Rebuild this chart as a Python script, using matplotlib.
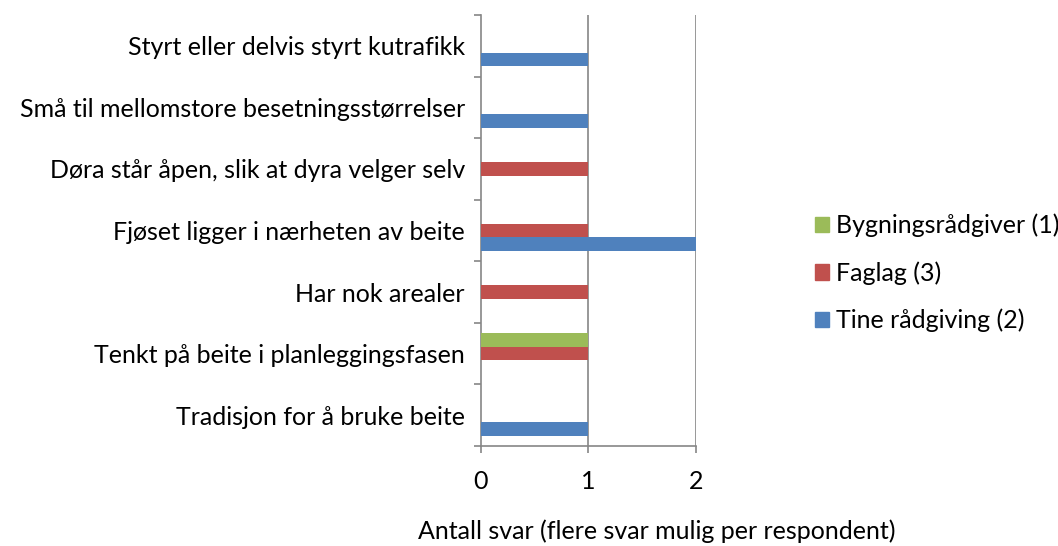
import numpy as np
import matplotlib.pyplot as plt
from matplotlib.patches import Patch

kategorier = [
    'Styrt eller delvis styrt kutrafikk',
    'Små til mellomstore besetningsstørrelser',
    'Døra står åpen, slik at dyra velger selv',
    'Fjøset ligger i nærheten av beite',
    'Har nok arealer',
    'Tenkt på beite i planleggingsfasen',
    'Tradisjon for å bruke beite',
]
tine = [1, 1, 0, 2, 0, 0, 1]
faglag = [0, 0, 1, 1, 1, 1, 0]
bygning = [0, 0, 0, 0, 0, 1, 0]

serier = ['Tine rådgiving (2)', 'Faglag (3)', 'Bygningsrådgiver (1)']
farger = ['#4F81BD', '#C0504D', '#9BBB59']
grid_farge = '#868686'
fs = 18

plt.rcParams['font.family'] = ['Lato', 'DejaVu Sans']

fig = plt.figure(figsize=(10.58, 5.46), dpi=100)
ax = fig.add_axes([0.4546, 0.1832, 0.6578 - 0.4546, 0.9725 - 0.1832])

n = len(kategorier)
# kategori 0 øverst
y = np.arange(n)[::-1].astype(float)
h = 0.22
for i, (verdier, farge) in enumerate(zip([tine, faglag, bygning], farger)):
    ax.barh(y + (i - 1) * h, verdier, height=h, color=farge, zorder=3)

ax.set_xlim(0, 2)
ax.set_ylim(-0.5, n - 0.5)
ax.set_xticks([0, 1, 2])
ax.set_xticklabels(['0', '1', '2'])
ax.set_yticks(y)
ax.set_yticklabels(kategorier)
ax.set_yticks(np.arange(n + 1) - 0.5, minor=True)
ax.tick_params(axis='y', which='major', length=0, pad=11.5, labelsize=fs)
ax.tick_params(axis='y', which='minor', length=5, width=1.2, color=grid_farge, direction='out')
ax.tick_params(axis='x', length=5, width=1.2, color=grid_farge, pad=12, labelsize=fs)

for s in ['top', 'right']:
    ax.spines[s].set_visible(False)
for s in ['left', 'bottom']:
    ax.spines[s].set_color(grid_farge)
    ax.spines[s].set_linewidth(1.2)

for xv in [1, 2]:
    ax.axvline(xv, color=grid_farge, linewidth=1.2, zorder=1)

# tittel på x-aksen står litt til høyre og helt nederst i bildet
fig.text(0.621, 0.0128, 'Antall svar (flere svar mulig per respondent)',
         ha='center', va='baseline', fontsize=fs)

handles = [Patch(color=farger[i]) for i in [2, 1, 0]]
labels = [serier[i] for i in [2, 1, 0]]
fig.legend(handles, labels, loc='center left', bbox_to_anchor=(0.770, 0.50),
           frameon=False, fontsize=fs, handlelength=0.56, handleheight=0.56,
           handletextpad=0.3, labelspacing=0.95, borderaxespad=0, borderpad=0)

fig.savefig('out.png', dpi=100, facecolor='white')
